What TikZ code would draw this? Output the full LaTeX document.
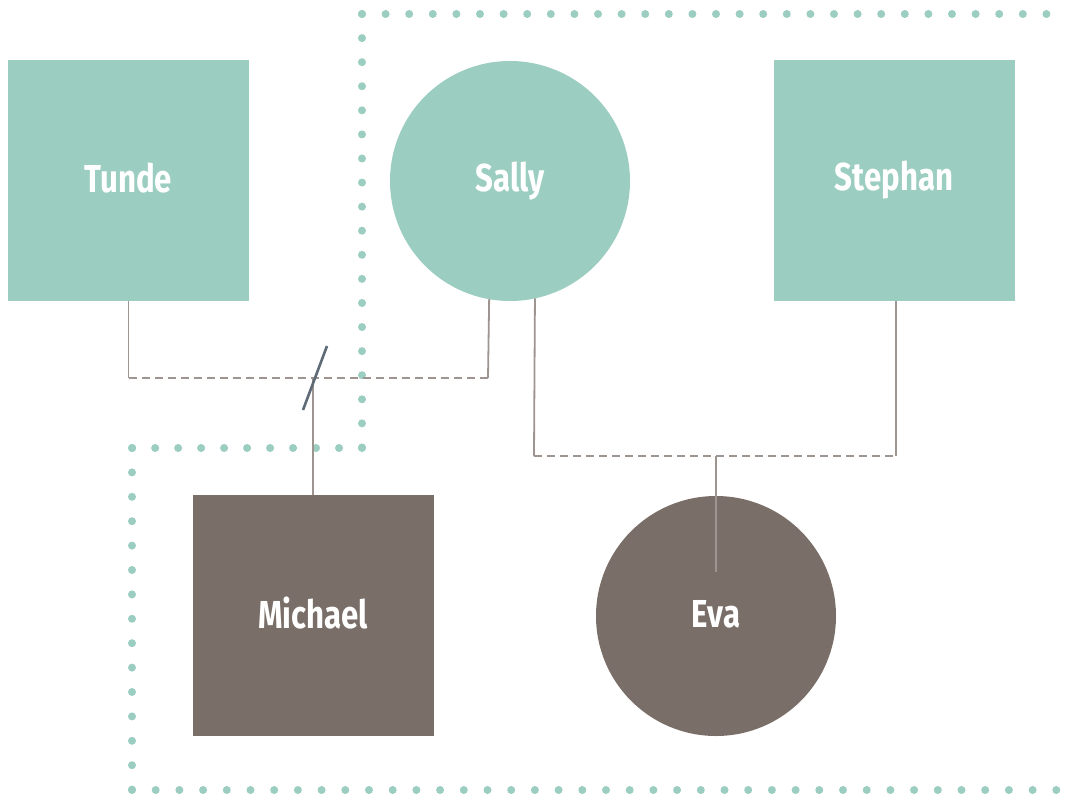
\documentclass[tikz,border=0pt]{standalone}
\usepackage{fontspec}
\setmainfont{Fira Sans}
\usetikzlibrary{calc}
\definecolor{teal}{HTML}{9CCDC1}
\definecolor{dotc}{HTML}{9CCDC1}
\definecolor{brownc}{HTML}{7A6E69}
\definecolor{connc}{HTML}{9E9490}
\definecolor{slashc}{HTML}{5E6A76}
\tikzset{
  person/.style={inner sep=0pt, outer sep=0pt, text=white,
    font=\fontsize{39}{42}\selectfont\bfseries},
  male/.style={person, rectangle, minimum width=241pt, minimum height=241pt},
  female/.style={person, circle, minimum size=240pt},
  conn/.style={draw=connc, line width=1.8pt},
  dashconn/.style={conn, dash pattern=on 8pt off 5pt},
  dotline/.style={draw=dotc, line width=8pt, line cap=round},
}
\newcommand{\nm}[1]{\raisebox{5pt}{\scalebox{0.8}[1]{#1}}}
\begin{document}
\begin{tikzpicture}[x=1pt,y=-1pt]
\useasboundingbox (0,0) rectangle (1066,798);
% dotted boundary
\coordinate (d1) at (362,14);
\coordinate (d0) at (1047,14);
\coordinate (d2) at (362,448);
\coordinate (d3) at (132,448);
\coordinate (d4) at (132,790);
\coordinate (d5) at (1057,790);
\draw[dotline, dash pattern=on 0pt off 23.6pt] (d1) -- (d0);
\draw[dotline, dash pattern=on 0pt off 24.08pt] (d1) -- (d2);
\draw[dotline, dash pattern=on 0pt off 22.98pt] (d2) -- (d3);
\draw[dotline, dash pattern=on 0pt off 24.4pt] (d3) -- (d4);
\draw[dotline, dash pattern=on 0pt off 23.7pt] (d4) -- (d5);
% people
\node[male, fill=teal] (Tunde) at (128.5,180.5) {\nm{Tunde}};
\node[female, fill=teal] (Sally) at (510,181) {\nm{Sally}};
\node[male, fill=teal] (Stephan) at (894,180.5) {\nm{Stephan}};
\node[male, fill=brownc] (Michael) at (313,615.5) {\nm{Michael}};
\node[female, fill=brownc] (Eva) at (716,616) {\nm{Eva}};
% couple Tunde--Sally
\coordinate (tl) at ($(Tunde.south)+(0,77)$);
\coordinate (sl) at (488,378);
\coordinate (mj) at (Michael.north |- sl);
\draw[conn] (Tunde.south) -- (tl);
\draw[dashconn] (tl) -- (sl);
\draw[conn] (sl) -- (Sally.-100.5);
\draw[conn] (Michael.north) -- (mj);
% separation slash
\coordinate (s1) at (303,410);
\coordinate (s2) at (327,346);
\draw[draw=slashc, line width=2.6pt] (s1) -- (s2);
% couple Sally--Stephan
\coordinate (sr) at (534,456);
\coordinate (sb) at ($(Stephan.south)+(2,0)$);
\coordinate (st) at (sb |- sr);
\coordinate (ej) at (Eva.north |- sr);
\coordinate (ee) at ($(Eva.center)+(0,-44)$);
\draw[conn] (Sally.-78.5) -- (sr);
\draw[dashconn] (sr) -- (st);
\draw[conn] (st) -- (sb);
\draw[conn] (ej) -- (ee);
\end{tikzpicture}
\end{document}
